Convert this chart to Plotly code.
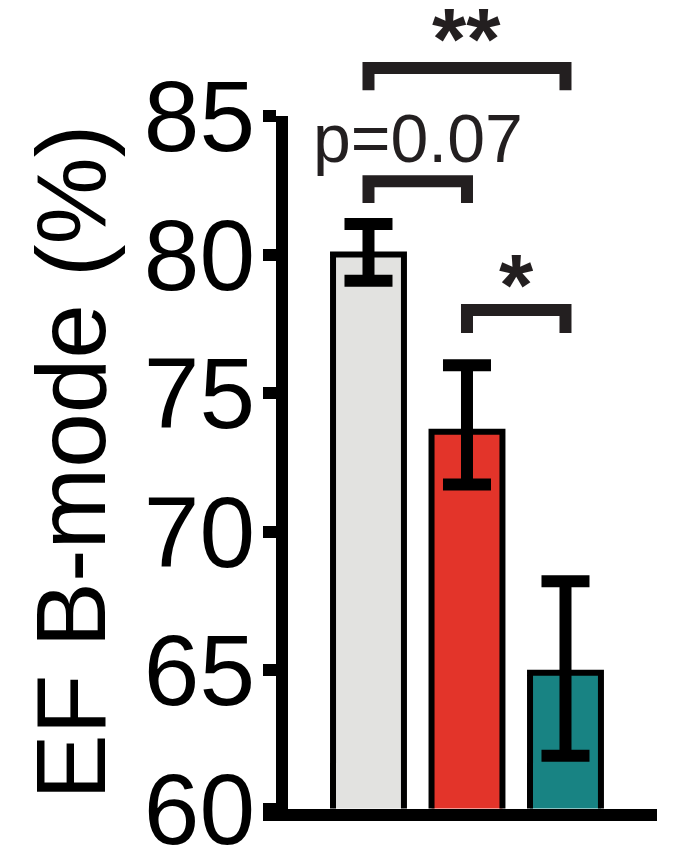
import plotly.graph_objects as go

# ---- data ----
positions = [0, 1, 2]                 # three unlabeled groups
means = [80.0, 73.6, 64.9]
err_plus = [1.1, 2.4, 3.3]
err_minus = [0.95, 1.9, 3.0]
bar_colors = ["#e2e2e0", "#e3342a", "#188383"]
y_tickvals = [60, 65, 70, 75, 80, 85]
y_title = "EF B-mode (%)"

# significance brackets: left group, right group, bar level, leg bottom, label, label level
br_left = [0, 0, 1]
br_right = [2, 1, 2]
br_top = [86.73, 82.64, 78.0]
br_leg = [85.93, 81.86, 77.17]
br_label = ["<b>**</b>", "p=0.07", "<b>*</b>"]
br_label_y = [87.8, 84.2, 78.9]
br_label_size = [88, 68, 88]

# ---- layout geometry ----
W, H = 678, 858
FONT = "Arial, 'Liberation Sans', sans-serif"
INK = "#231f20"
y_lo, y_hi = 60, 85
d0 = (H - 808.5) / H
d1 = (H - 116) / H
scale = (d1 - d0) * H / (y_hi - y_lo)       # px per unit
y_full_top = y_lo + (1 - d0) * H / scale     # same scale, reaching the top edge

fig = go.Figure()

fig.add_trace(go.Bar(
    x=positions, y=means, width=0.72,
    xaxis="x", yaxis="y2",
    marker=dict(color=bar_colors, line=dict(color="black", width=6)),
    error_y=dict(type="data", symmetric=False, array=err_plus, arrayminus=err_minus,
                 color="black", thickness=12, width=24),
    showlegend=False, hoverinfo="skip",
))

# invisible trace on the full-height overlay axis used for brackets
fig.add_trace(go.Scatter(x=[positions[0]], y=[y_lo], xaxis="x", yaxis="y",
                         mode="markers", marker=dict(opacity=0), showlegend=False,
                         hoverinfo="skip"))

for l, r, t, b in zip(br_left, br_right, br_top, br_leg):
    fig.add_shape(type="path", xref="x", yref="y",
                  path=f"M {positions[l]},{b} L {positions[l]},{t} L {positions[r]},{t} L {positions[r]},{b}",
                  line=dict(color=INK, width=12))

for l, r, txt, ly, sz in zip(br_left, br_right, br_label, br_label_y, br_label_size):
    fig.add_annotation(x=(positions[l] + positions[r]) / 2, y=ly, xref="x", yref="y",
                       text=txt, showarrow=False, yanchor="middle",
                       font=dict(family=FONT, size=sz, color=INK))

fig.update_layout(
    width=W, height=H,
    margin=dict(l=0, r=0, t=0, b=0, autoexpand=False),
    paper_bgcolor="white", plot_bgcolor="white",
    showlegend=False,
    font=dict(family=FONT, color="black"),
    xaxis=dict(domain=[263 / W, 657 / W], range=[-1.071, 2.929], anchor="y2",
               showline=True, linewidth=12, linecolor="black", automargin=False,
               showticklabels=False, ticks="", showgrid=False, zeroline=False,
               fixedrange=True),
    yaxis=dict(domain=[d0, 1], range=[y_lo, y_full_top], visible=False,
               automargin=False, fixedrange=True),
    yaxis2=dict(domain=[d0, d1], range=[y_lo, y_hi], anchor="free", position=282 / W,
                showline=True, linewidth=12, linecolor="black", automargin=False,
                tickvals=y_tickvals, ticks="outside", ticklen=13, tickwidth=12,
                tickcolor="black", tickfont=dict(family=FONT, size=100, color="black"),
                ticklabeloverflow="allow", ticklabelstandoff=-12,
                showgrid=False, zeroline=False, fixedrange=True,
                title=dict(text=y_title, font=dict(family=FONT, size=98, color="black"),
                           standoff=4)),
)

fig.write_html("out.html")
